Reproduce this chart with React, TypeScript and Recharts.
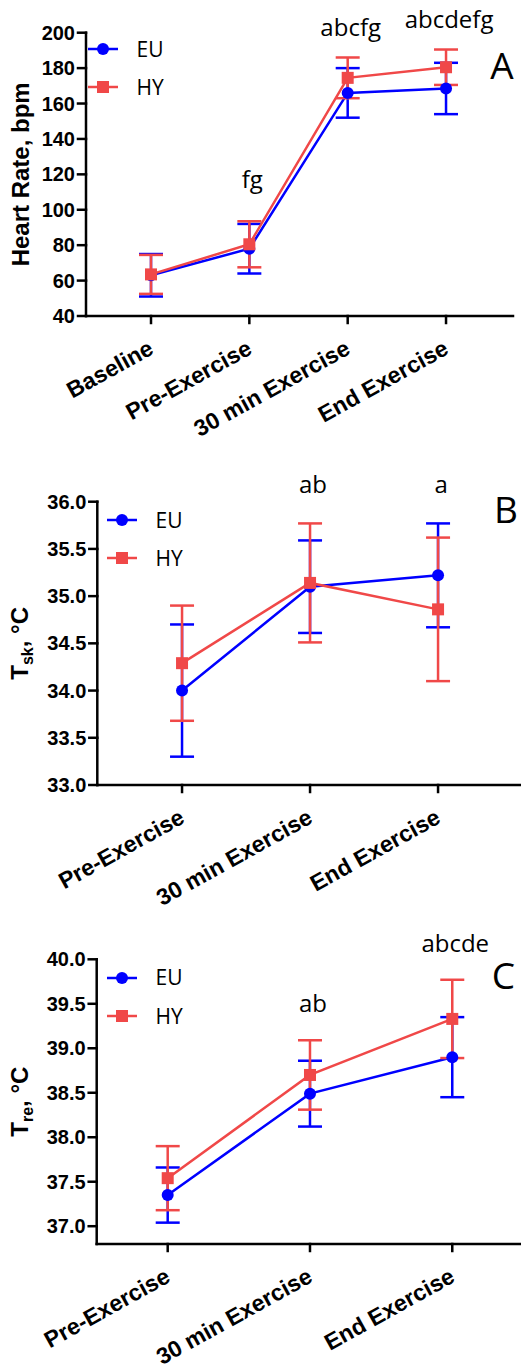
import React from "react";
import { LineChart, Line, XAxis, YAxis, ErrorBar, Legend } from "recharts";

const BLUE = "#0000ff";
const RED = "#f04848";
const AXIS_FONT = "'Liberation Sans', Arial, sans-serif";
const NOTE_FONT = "'Open Sans', sans-serif";
const W = 521;

// A: heart rate (bpm), mean and SD
const hrCategories = ["Baseline", "Pre-Exercise", "30 min Exercise", "End Exercise"];
const hrEU = [63, 78, 166, 168.5];
const hrEUsd = [12, 14, 14, 14.5];
const hrHY = [63.5, 80.5, 174.5, 180.5];
const hrHYsd = [11, 13, 11.5, 10];
const hrTicks = [40, 60, 80, 100, 120, 140, 160, 180, 200];
const hrLetters = ["", "fg", "abcfg", "abcdefg"];

// B: mean skin temperature (°C)
const tempCategories = ["Pre-Exercise", "30 min Exercise", "End Exercise"];
const tskEU = [34.0, 35.1, 35.22];
const tskEUsd = [0.7, 0.49, 0.55];
const tskHY = [34.29, 35.14, 34.86];
const tskHYsd = [0.61, 0.63, 0.76];
const tskTicks = [33, 33.5, 34, 34.5, 35, 35.5, 36];
const tskLetters = ["", "ab", "a"];

// C: rectal temperature (°C)
const treEU = [37.35, 38.49, 38.9];
const treEUsd = [0.31, 0.37, 0.45];
const treHY = [37.54, 38.7, 39.33];
const treHYsd = [0.36, 0.39, 0.44];
const treTicks = [37, 37.5, 38, 38.5, 39, 39.5, 40];
const treLetters = ["", "ab", "abcde"];

type Box = { left: number; top: number; right: number; bottom: number };

type PanelSpec = {
  top: number;
  height: number;
  plot: Box;
  xDomain: [number, number];
  yDomain: [number, number];
  yTicks: number[];
  yDecimals: number;
  categories: string[];
  eu: number[];
  euSd: number[];
  hy: number[];
  hySd: number[];
  letters: string[];
  letterY: number[];
  tag: string;
  tagX: number;
  tagY: number;
  title: React.ReactNode;
  titleX: number;
  legendLeft: number;
  legendTop: number;
  legendRow: number;
};

function SquareDot(props: any) {
  const { cx, cy, index } = props;
  if (cx == null || cy == null) return null;
  return <rect key={`sq-${index}`} x={cx - 6} y={cy - 6} width={12} height={12} fill={RED} />;
}

function CategoryTick(props: any) {
  const { x, y, payload, labels } = props;
  return (
    <text
      transform={`translate(${x + 4},${y + 30}) rotate(-29)`}
      textAnchor="end"
      fontFamily={AXIS_FONT}
      fontSize={23}
      fontWeight={700}
      fill="#000"
    >
      {labels[payload.value]}
    </text>
  );
}

function LegendBox({ payload, rowHeight }: any) {
  return (
    <div style={{ fontFamily: NOTE_FONT, fontSize: 21, color: "#000" }}>
      {(payload || []).map((entry: any, i: number) => (
        <div key={entry.value} style={{ display: "flex", alignItems: "center", height: rowHeight }}>
          <svg width={30} height={14} style={{ display: "block" }}>
            <line x1={0} x2={30} y1={7} y2={7} stroke={entry.color} strokeWidth={2.5} />
            {i === 0 ? (
              <circle cx={15} cy={7} r={6} fill={entry.color} />
            ) : (
              <rect x={9} y={1} width={12} height={12} fill={entry.color} />
            )}
          </svg>
          <span style={{ marginLeft: 18.5, lineHeight: 1 }}>{entry.value}</span>
        </div>
      ))}
    </div>
  );
}

function Panel({ spec }: { spec: PanelSpec }) {
  const { plot } = spec;
  const rows = spec.eu.map((v, i) => ({
    x: i,
    eu: v,
    euSd: spec.euSd[i],
    hy: spec.hy[i],
    hySd: spec.hySd[i],
  }));
  const xTicks = spec.categories.map((_, i) => i);
  const [d0, d1] = spec.xDomain;
  const toPx = (i: number) => plot.left + ((i - d0) / (d1 - d0)) * (plot.right - plot.left);
  const axisStyle = { stroke: "#000", strokeWidth: 2.5, strokeLinecap: "square" as const };

  return (
    <div style={{ position: "absolute", left: 0, top: spec.top, width: W, height: spec.height }}>
      <LineChart
        width={W}
        height={spec.height}
        data={rows}
        margin={{ top: plot.top, right: W - plot.right, bottom: 0, left: 0 }}
      >
        <XAxis
          type="number"
          dataKey="x"
          domain={spec.xDomain}
          ticks={xTicks}
          interval={0}
          height={spec.height - plot.bottom}
          axisLine={axisStyle}
          tickLine={axisStyle}
          tickSize={7}
          tickMargin={0}
          tick={(p: any) => <CategoryTick {...p} labels={spec.categories} />}
        />
        <YAxis
          type="number"
          width={plot.left}
          domain={spec.yDomain}
          ticks={spec.yTicks}
          interval={0}
          allowDataOverflow
          axisLine={axisStyle}
          tickLine={axisStyle}
          tickSize={8}
          tickMargin={3}
          tickFormatter={(v: number) => v.toFixed(spec.yDecimals)}
          tick={{ fontFamily: AXIS_FONT, fontSize: 20, fontWeight: 700, fill: "#000" }}
        />
        <Legend
          layout="vertical"
          align="center"
          verticalAlign="middle"
          wrapperStyle={{ left: spec.legendLeft, top: spec.legendTop, width: "auto" }}
          content={(p: any) => <LegendBox payload={p.payload} rowHeight={spec.legendRow} />}
        />
        <Line
          type="linear"
          dataKey="eu"
          name="EU"
          stroke={BLUE}
          strokeWidth={2.5}
          dot={{ r: 6, fill: BLUE, stroke: BLUE, strokeWidth: 0 }}
          activeDot={false}
          isAnimationActive={false}
        >
          <ErrorBar dataKey="euSd" direction="y" width={12} strokeWidth={2.5} stroke={BLUE} />
        </Line>
        <Line
          type="linear"
          dataKey="hy"
          name="HY"
          stroke={RED}
          strokeWidth={2.5}
          dot={(p: any) => <SquareDot {...p} />}
          activeDot={false}
          isAnimationActive={false}
        >
          <ErrorBar dataKey="hySd" direction="y" width={12} strokeWidth={2.5} stroke={RED} />
        </Line>
      </LineChart>
      <svg
        width={W}
        height={spec.height}
        style={{ position: "absolute", left: 0, top: 0, pointerEvents: "none" }}
      >
        <text
          transform={`translate(${spec.titleX},${(plot.top + plot.bottom) / 2}) rotate(-90)`}
          textAnchor="middle"
          fontFamily={AXIS_FONT}
          fontSize={24}
          fontWeight={700}
          fill="#000"
        >
          {spec.title}
        </text>
        {spec.letters.map((s, i) =>
          s ? (
            <text
              key={i}
              x={toPx(i) + 3}
              y={spec.letterY[i]}
              textAnchor="middle"
              fontFamily={NOTE_FONT}
              fontSize={24}
              fill="#000"
            >
              {s}
            </text>
          ) : null
        )}
        <text x={spec.tagX} y={spec.tagY} textAnchor="middle" fontFamily={NOTE_FONT} fontSize={37} fill="#000">
          {spec.tag}
        </text>
      </svg>
    </div>
  );
}

const panelA: PanelSpec = {
  top: 0,
  height: 460,
  plot: { left: 86, top: 32.7, right: 513, bottom: 316 },
  xDomain: [-0.661, 3.681],
  yDomain: [40, 200],
  yTicks: hrTicks,
  yDecimals: 0,
  categories: hrCategories,
  eu: hrEU,
  euSd: hrEUsd,
  hy: hrHY,
  hySd: hrHYsd,
  letters: hrLetters,
  letterY: [0, 188, 36, 28],
  tag: "A",
  tagX: 502,
  tagY: 79,
  title: "Heart Rate, bpm",
  titleX: 28.5,
  legendLeft: 88,
  legendTop: 30.3,
  legendRow: 38,
};

const panelB: PanelSpec = {
  top: 460,
  height: 455,
  plot: { left: 97.3, top: 41.7, right: 521, bottom: 325 },
  xDomain: [-0.662, 2.648],
  yDomain: [33, 36],
  yTicks: tskTicks,
  yDecimals: 1,
  categories: tempCategories,
  eu: tskEU,
  euSd: tskEUsd,
  hy: tskHY,
  hySd: tskHYsd,
  letters: tskLetters,
  letterY: [0, 33.3, 33.3],
  tag: "B",
  tagX: 506,
  tagY: 63.3,
  title: (
    <>
      T
      <tspan fontSize={16} dy={5}>
        sk
      </tspan>
      <tspan dy={-5}>, °C</tspan>
    </>
  ),
  titleX: 28,
  legendLeft: 107,
  legendTop: 41,
  legendRow: 38.3,
};

const panelC: PanelSpec = {
  top: 915,
  height: 455,
  plot: { left: 96.7, top: 44.3, right: 521, bottom: 329 },
  xDomain: [-0.499, 2.483],
  yDomain: [36.8, 40],
  yTicks: treTicks,
  yDecimals: 1,
  categories: tempCategories,
  eu: treEU,
  euSd: treEUsd,
  hy: treHY,
  hySd: treHYsd,
  letters: treLetters,
  letterY: [0, 96.7, 37],
  tag: "C",
  tagX: 503.3,
  tagY: 74,
  title: (
    <>
      T
      <tspan fontSize={16} dy={5}>
        re
      </tspan>
      <tspan dy={-5}>, °C</tspan>
    </>
  ),
  titleX: 28.3,
  legendLeft: 107,
  legendTop: 43.3,
  legendRow: 38.7,
};

export default function App() {
  return (
    <div
      style={{
        position: "absolute",
        left: 0,
        top: 0,
        width: W,
        height: 1370,
        background: "#fff",
        overflow: "hidden",
      }}
    >
      <Panel spec={panelA} />
      <Panel spec={panelB} />
      <Panel spec={panelC} />
    </div>
  );
}
